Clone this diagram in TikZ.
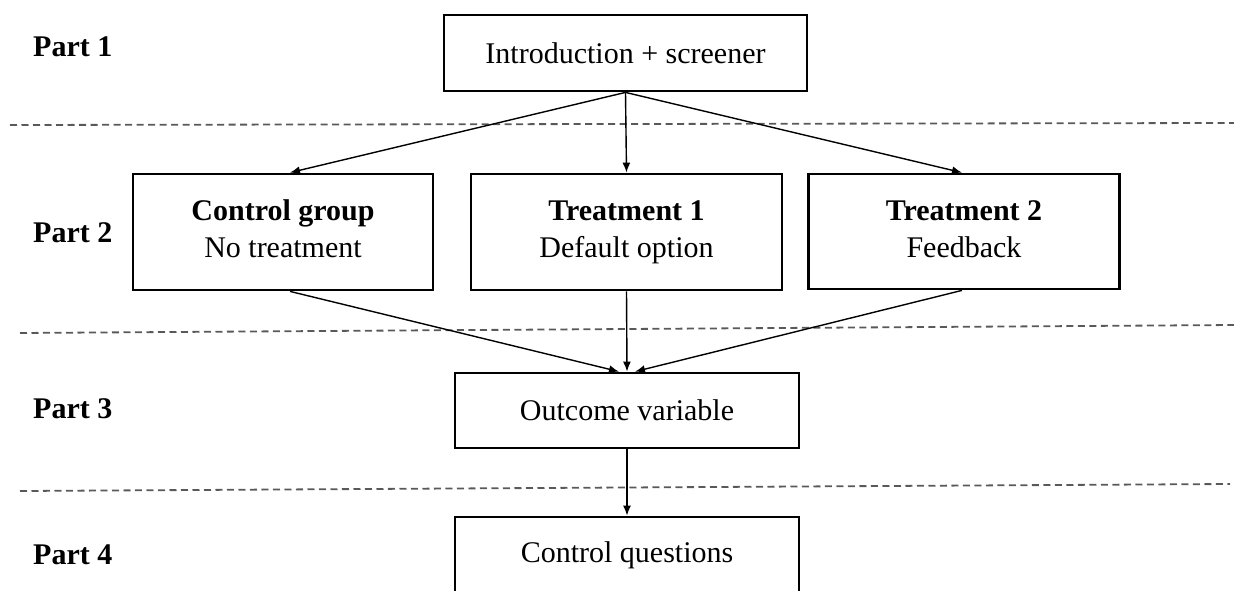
\documentclass[tikz,border=0pt]{standalone}
\usepackage{fontspec}
\setmainfont{Liberation Serif}
\usetikzlibrary{arrows.meta}

\begin{document}
\begin{tikzpicture}[x=1pt, y=-1pt,
    box/.style={draw, line width=2.8pt, rectangle, align=center, inner sep=0pt,
      font=\fontsize{30}{37}\selectfont},
    partlabel/.style={anchor=base west, inner sep=0pt, font=\fontsize{30}{36}\selectfont\bfseries},
    sepline/.style={draw=black!65, line width=1.8pt, dash pattern=on 7pt off 4.5pt},
    arr/.style={line width=1.4pt, -{Latex[length=10pt,width=8pt]}}]
  \useasboundingbox (0,0) rectangle (1234,591);
  % dashed separators between the parts
  \draw[sepline] (10,125) -- (1234,123);
  \draw[sepline] (20,333) -- (1234,325);
  \draw[sepline] (20,491) -- (1230,484);
  % part labels
  \node[partlabel] (part1) at (33,57) {Part 1};
  \node[partlabel] (part2) at (33,242) {Part 2};
  \node[partlabel] (part3) at (33,418) {Part 3};
  \node[partlabel] (part4) at (33,564) {Part 4};
  % boxes
  \node[box, minimum width=363pt, minimum height=76pt] (intro) at (625.5,53) {Introduction + screener};
  \node[box, minimum width=300pt, minimum height=116pt] (ctrl) at (283,232) {\textbf{Control group}\strut\\No treatment\strut};
  \node[box, minimum width=311pt, minimum height=116pt] (treat1) at (626.5,232) {\textbf{Treatment 1}\strut\\Default option\strut};
  \node[box, minimum width=311pt, minimum height=115pt] (treat2) at (964,231.5) {\textbf{Treatment 2}\strut\\Feedback\strut};
  \node[box, minimum width=344pt, minimum height=75pt] (outcome) at (627,410.5) {Outcome variable};
  \node[box, minimum width=344pt, minimum height=76pt] (questions) at (627,555) {Control questions};
  % arrows
  \draw[arr] (intro.south) -- ([xshift=7pt]ctrl.north);
  \draw[arr] (intro.south) -- (treat1.north);
  \draw[arr] (intro.south) -- ([xshift=-2pt]treat2.north);
  \draw[arr] ([xshift=7pt]ctrl.south) -- ([xshift=-8pt]outcome.north);
  \draw[arr] (treat1.south) -- (outcome.north);
  \draw[arr] ([xshift=-2pt]treat2.south) -- ([xshift=8pt]outcome.north);
  \draw[arr] (outcome.south) -- (questions.north);
\end{tikzpicture}
\end{document}
